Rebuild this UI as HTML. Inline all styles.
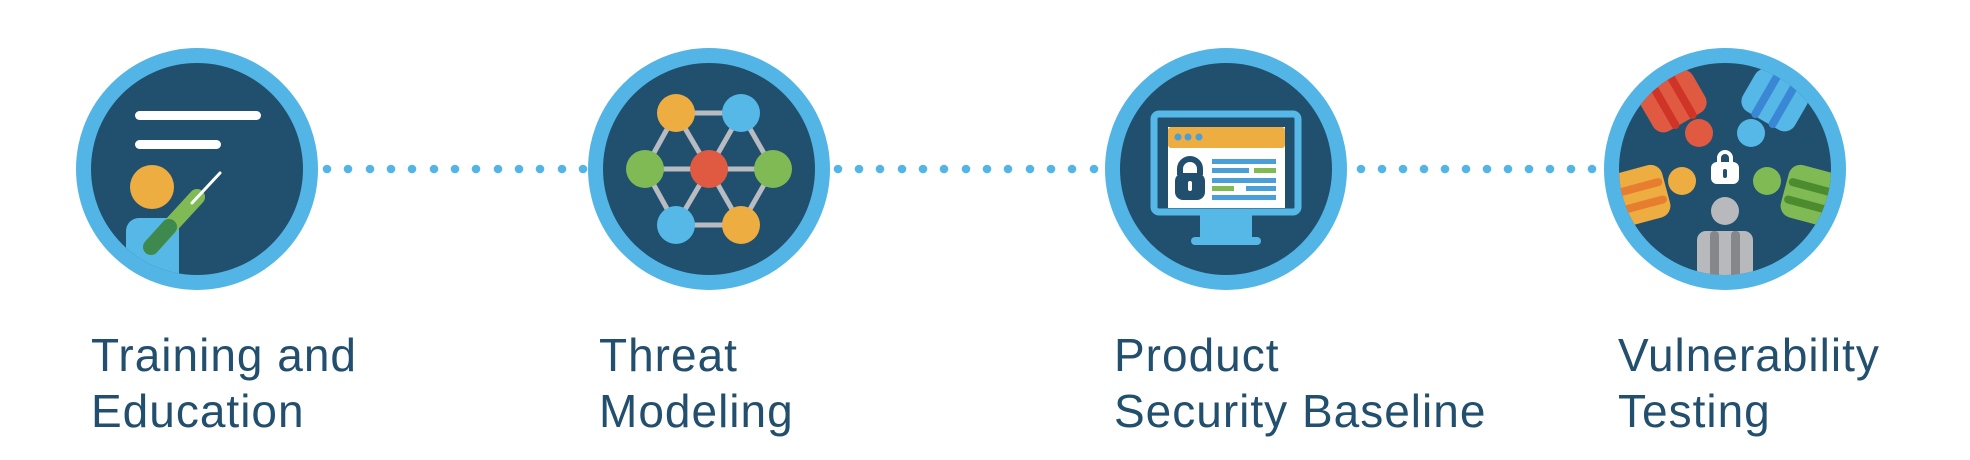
<!DOCTYPE html>
<html><head><meta charset="utf-8"><style>
html,body{margin:0;padding:0;background:#fff;}
body{width:1970px;height:460px;position:relative;overflow:hidden;font-family:"Liberation Sans",sans-serif;}
.t{position:absolute;top:327px;font-size:46px;line-height:56px;color:#234f6e;letter-spacing:1px;}
svg{position:absolute;left:0;top:0;}
</style></head><body>
<svg width="1970" height="460" viewBox="0 0 1970 460">
<defs>
<clipPath id="c"><circle cx="0" cy="0" r="106"/></clipPath>
</defs>
<g transform="translate(197,169)">
<circle r="121" fill="#52b5e5"/><circle r="106" fill="#21506f"/>
<g clip-path="url(#c)">
<rect x="-62" y="-58" width="126" height="9" rx="4.5" fill="#fff"/>
<rect x="-62" y="-29" width="86" height="9" rx="4.5" fill="#fff"/>
<ellipse cx="-45" cy="18" rx="22" ry="22" fill="#edad41"/>
<path d="M-71 120 V62 a13 13 0 0 1 13 -13 H-18 V120 Z" fill="#55b8e6"/>
<line x1="-46" y1="78" x2="0" y2="28" stroke="#80ba55" stroke-width="16" stroke-linecap="round"/>
<line x1="-46" y1="78" x2="-28" y2="58" stroke="#3e8a4e" stroke-width="16" stroke-linecap="round"/>
<line x1="-5" y1="34" x2="23" y2="4" stroke="#fff" stroke-width="3" stroke-linecap="round"/>
</g></g>

<g transform="translate(709,169)">
<circle r="121" fill="#52b5e5"/><circle r="106" fill="#21506f"/>
<g stroke="#b8bcc2" stroke-width="5">
<line x1="-33" y1="-56" x2="32" y2="-56"/><line x1="-33" y1="56" x2="32" y2="56"/>
<line x1="-64" y1="0" x2="64" y2="0"/>
<line x1="-33" y1="-56" x2="-64" y2="0"/><line x1="-33" y1="-56" x2="0" y2="0"/>
<line x1="32" y1="-56" x2="0" y2="0"/><line x1="32" y1="-56" x2="64" y2="0"/>
<line x1="-64" y1="0" x2="-33" y2="56"/><line x1="0" y1="0" x2="-33" y2="56"/>
<line x1="0" y1="0" x2="32" y2="56"/><line x1="64" y1="0" x2="32" y2="56"/>
</g>
<circle cx="-33" cy="-56" r="19" fill="#edad41"/><circle cx="32" cy="-56" r="19" fill="#55b8e6"/>
<circle cx="-64" cy="0" r="19" fill="#80ba55"/><circle cx="0" cy="0" r="19" fill="#e05a42"/>
<circle cx="64" cy="0" r="19" fill="#80ba55"/>
<circle cx="-33" cy="56" r="19" fill="#55b8e6"/><circle cx="32" cy="56" r="19" fill="#edad41"/>
</g>

<g transform="translate(1226,169)">
<circle r="121" fill="#52b5e5"/><circle r="106" fill="#21506f"/>
<rect x="-26" y="44" width="52" height="26" fill="#55b8e6"/>
<rect x="-35" y="68" width="70" height="8" rx="4" fill="#55b8e6"/>
<rect x="-72" y="-55" width="144" height="98" rx="5" fill="#21506f" stroke="#55b8e6" stroke-width="7"/>
<rect x="-58" y="-42" width="117" height="81" fill="#fff"/>
<rect x="-58" y="-42" width="117" height="21" rx="3" fill="#edad41"/>
<g fill="#4a9fd8"><circle cx="-48" cy="-32" r="3.5"/><circle cx="-38" cy="-32" r="3.5"/><circle cx="-27" cy="-32" r="3.5"/></g>
<path d="M-46 6 v-6 a10 10 0 0 1 20 0 v6" fill="none" stroke="#234f6e" stroke-width="6"/>
<rect x="-51" y="4" width="30" height="27" rx="8" fill="#234f6e"/>
<rect x="-38" y="12" width="4" height="10" rx="2" fill="#fff"/>
<g fill="#4a9fd8">
<rect x="-14" y="-10" width="64" height="5"/><rect x="-14" y="-1" width="37" height="5"/>
<rect x="-14" y="9" width="64" height="5"/><rect x="20" y="17" width="30" height="5"/>
<rect x="-14" y="26" width="64" height="5"/></g>
<g fill="#80ba55"><rect x="28" y="-1" width="22" height="5"/><rect x="-14" y="17" width="22" height="5"/></g>
</g>

<g transform="translate(1725,169)">
<circle r="121" fill="#52b5e5"/><circle r="106" fill="#21506f"/>
<g clip-path="url(#c)">
<g transform="translate(-52,-68) rotate(-30)">
<rect x="-30" y="-24" width="60" height="48" rx="12" fill="#e05a42"/>
<rect x="-14" y="-30" width="8" height="56" rx="4" fill="#cf3426"/><rect x="6" y="-30" width="8" height="56" rx="4" fill="#cf3426"/></g>
<g transform="translate(50,-69) rotate(30)">
<rect x="-30" y="-24" width="60" height="48" rx="12" fill="#55b8e6"/>
<rect x="-14" y="-30" width="8" height="56" rx="4" fill="#3a87d6"/><rect x="6" y="-30" width="8" height="56" rx="4" fill="#3a87d6"/></g>
<g transform="translate(-84,26) rotate(-15)">
<rect x="-30" y="-27" width="56" height="54" rx="12" fill="#edad41"/>
<rect x="-34" y="-12" width="58" height="8" rx="4" fill="#e77d2e"/><rect x="-34" y="6" width="58" height="8" rx="4" fill="#e77d2e"/></g>
<g transform="translate(85,26) rotate(15)">
<rect x="-26" y="-27" width="56" height="54" rx="12" fill="#80ba55"/>
<rect x="-24" y="-12" width="58" height="8" rx="4" fill="#4d8c2e"/><rect x="-24" y="6" width="58" height="8" rx="4" fill="#4d8c2e"/></g>
<circle cx="-26" cy="-36" r="14" fill="#e05a42"/><circle cx="26" cy="-36" r="14" fill="#55b8e6"/>
<circle cx="-43" cy="12" r="14" fill="#edad41"/><circle cx="42" cy="12" r="14" fill="#80ba55"/>
<path d="M-6 -6 v-5 a6 6 0 0 1 12 0 v5" fill="none" stroke="#fff" stroke-width="4"/>
<rect x="-14" y="-7" width="28" height="22" rx="6" fill="#fff"/>
<rect x="-2" y="0" width="4" height="9" rx="2" fill="#21506f"/>
<circle cx="0" cy="42" r="14" fill="#b8b9bd"/>
<rect x="-28" y="62" width="56" height="60" rx="9" fill="#b8b9bd"/>
<rect x="-15" y="62" width="9" height="60" rx="4" fill="#86878b"/><rect x="6" y="62" width="9" height="60" rx="4" fill="#86878b"/>
</g></g>
<g fill="#52b5e5">
<circle cx="327" cy="169" r="4.3"/><circle cx="348" cy="169" r="4.3"/><circle cx="370" cy="169" r="4.3"/><circle cx="391" cy="169" r="4.3"/><circle cx="412" cy="169" r="4.3"/><circle cx="434" cy="169" r="4.3"/><circle cx="455" cy="169" r="4.3"/><circle cx="476" cy="169" r="4.3"/><circle cx="498" cy="169" r="4.3"/><circle cx="519" cy="169" r="4.3"/><circle cx="540" cy="169" r="4.3"/><circle cx="562" cy="169" r="4.3"/><circle cx="583" cy="169" r="4.3"/>
<circle cx="838" cy="169" r="4.3"/><circle cx="859" cy="169" r="4.3"/><circle cx="880" cy="169" r="4.3"/><circle cx="902" cy="169" r="4.3"/><circle cx="923" cy="169" r="4.3"/><circle cx="944" cy="169" r="4.3"/><circle cx="966" cy="169" r="4.3"/><circle cx="987" cy="169" r="4.3"/><circle cx="1008" cy="169" r="4.3"/><circle cx="1030" cy="169" r="4.3"/><circle cx="1051" cy="169" r="4.3"/><circle cx="1072" cy="169" r="4.3"/><circle cx="1094" cy="169" r="4.3"/>
<circle cx="1361" cy="169" r="4.3"/><circle cx="1382" cy="169" r="4.3"/><circle cx="1403" cy="169" r="4.3"/><circle cx="1424" cy="169" r="4.3"/><circle cx="1445" cy="169" r="4.3"/><circle cx="1466" cy="169" r="4.3"/><circle cx="1487" cy="169" r="4.3"/><circle cx="1508" cy="169" r="4.3"/><circle cx="1529" cy="169" r="4.3"/><circle cx="1550" cy="169" r="4.3"/><circle cx="1571" cy="169" r="4.3"/><circle cx="1592" cy="169" r="4.3"/>
</g>
</svg>
<div class="t" style="left:91px">Training and<br>Education</div>
<div class="t" style="left:599px">Threat<br>Modeling</div>
<div class="t" style="left:1114px">Product<br>Security Baseline</div>
<div class="t" style="left:1618px">Vulnerability<br>Testing</div>
</body></html>
